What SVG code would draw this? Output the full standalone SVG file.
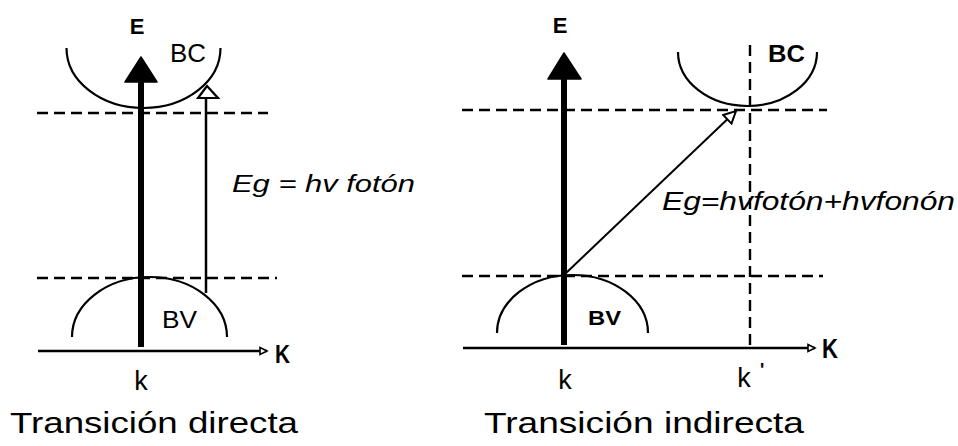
<svg xmlns="http://www.w3.org/2000/svg" width="958" height="446" viewBox="0 0 958 446">
<defs>
<style>
.ln{stroke:#000;fill:none}
.dash{stroke:#000;stroke-width:2.4;stroke-dasharray:11 6;fill:none}
.band{stroke:#000;stroke-width:2.2;fill:none}
.t{font-family:"Liberation Sans",Arial,sans-serif;fill:#000}
.b{font-weight:bold}
.i{font-style:italic}
</style>
<marker id="axisHead" markerUnits="userSpaceOnUse" markerWidth="10" markerHeight="10" refX="8" refY="5" orient="auto">
<path d="M1,1.5 L8,5 L1,8.5 z" fill="#fff" stroke="#000" stroke-width="1.6"/>
</marker>
<marker id="openHead" markerUnits="userSpaceOnUse" markerWidth="16" markerHeight="16" refX="13" refY="7" orient="auto">
<path d="M1,1 L13,7 L1,13 z" fill="#fff" stroke="#000" stroke-width="2"/>
</marker>
</defs>
<rect width="958" height="446" fill="#fff"/>

<!-- Left: direct transition -->
<g id="left-bands">
<path class="band" d="M66.5,48 A77,60 0 0 0 220.5,48"/>
<path class="band" d="M72,337 A77.5,60 0 0 1 227,337"/>
<text class="t" x="170" y="62" font-size="25" textLength="36" lengthAdjust="spacingAndGlyphs">BC</text>
<text class="t" x="162" y="328" font-size="24" textLength="35" lengthAdjust="spacingAndGlyphs">BV</text>
</g>
<g id="left-levels">
<line class="dash" x1="37" y1="113" x2="268" y2="113"/>
<line class="dash" x1="37" y1="278" x2="277" y2="278"/>
</g>
<g id="left-axis-labels">
<text class="t b" x="137" y="34" font-size="22" text-anchor="middle">E</text>
<text class="t b" x="275" y="363" font-size="25" textLength="15" lengthAdjust="spacingAndGlyphs">K</text>
<text class="t" x="141" y="390" font-size="27" text-anchor="middle">k</text>
<text class="t i" x="232" y="192" font-size="24" textLength="183" lengthAdjust="spacingAndGlyphs">Eg = hv fotón</text>
<text class="t" x="10" y="433" font-size="29" textLength="288" lengthAdjust="spacingAndGlyphs">Transición directa</text>
</g>

<!-- Right: indirect transition -->
<g id="right-bands">
<path class="band" d="M678,52 A69.5,54 0 0 0 817,52"/>
<path class="band" d="M497,333 A75.5,58 0 0 1 648,333"/>
<text class="t b" x="768" y="62" font-size="23" textLength="37" lengthAdjust="spacingAndGlyphs">BC</text>
<text class="t b" x="588" y="325" font-size="20" textLength="33" lengthAdjust="spacingAndGlyphs">BV</text>
</g>
<g id="right-levels">
<line class="dash" x1="462" y1="110" x2="827" y2="110"/>
<line class="dash" x1="462" y1="276" x2="823" y2="276"/>
<line class="dash" x1="750" y1="45" x2="750" y2="348" stroke-dasharray="8 4"/>
</g>
<g id="right-axis-labels">
<text class="t b" x="560" y="33" font-size="22" text-anchor="middle">E</text>
<text class="t b" x="822" y="358" font-size="28" textLength="16" lengthAdjust="spacingAndGlyphs">K</text>
<text class="t" x="565" y="389" font-size="27" text-anchor="middle">k</text>
<text class="t" x="744" y="387" font-size="27" text-anchor="middle">k</text>
<text class="t b" x="760" y="376" font-size="18">'</text>
<text class="t i" x="662" y="210" font-size="26" textLength="293" lengthAdjust="spacingAndGlyphs">Eg=hvfotón+hvfonón</text>
<text class="t" x="484" y="433" font-size="29" textLength="320" lengthAdjust="spacingAndGlyphs">Transición indirecta</text>
</g>

<g id="connectors">
<!-- left axis -->
<line class="ln" x1="38" y1="351" x2="267" y2="351" stroke-width="2.5" marker-end="url(#axisHead)"/>
<!-- left thick arrow -->
<line class="ln" x1="141" y1="347" x2="141" y2="80" stroke-width="6"/>
<polygon points="141,57 125,82 157,82" fill="#000" stroke="#000" stroke-width="1.5" stroke-linejoin="round"/>
<!-- left thin arrow (photon) -->
<line class="ln" x1="206" y1="293" x2="206" y2="98" stroke-width="2.5"/>
<polygon points="207,86 198,98 218,98" fill="#fff" stroke="#000" stroke-width="2.2"/>

<!-- right axis -->
<line class="ln" x1="463" y1="348" x2="815" y2="348" stroke-width="2.5" marker-end="url(#axisHead)"/>
<!-- right thick arrow -->
<line class="ln" x1="564" y1="345" x2="564" y2="77" stroke-width="6"/>
<polygon points="564,53 548,79 581,79" fill="#000" stroke="#000" stroke-width="1.5" stroke-linejoin="round"/>
<!-- diagonal arrow (photon + phonon) -->
<line class="ln" x1="565" y1="274" x2="736" y2="111" stroke-width="2" marker-end="url(#openHead)"/>
</g>
</svg>
